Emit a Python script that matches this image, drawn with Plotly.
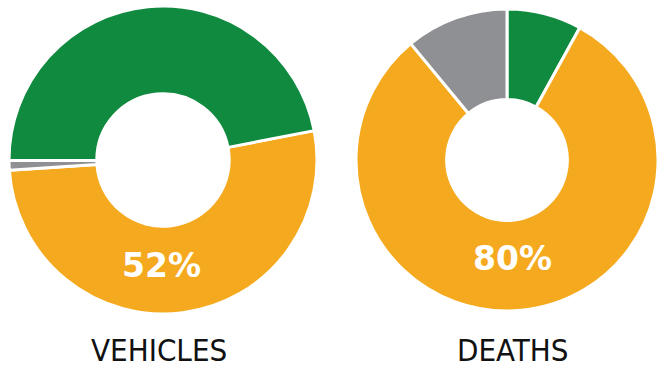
import plotly.graph_objects as go

# Data
categories = ["Green", "Yellow", "Gray"]
vehicles_labels = ["Yellow", "Gray", "Green"]
vehicles_values = [52, 1, 47]
deaths_labels = ["Green", "Yellow", "Gray"]
deaths_values = [8, 81, 11]
center_texts = ["52%", "80%"]
titles = ["VEHICLES", "DEATHS"]

colors = {"Green": "#0f8a3f", "Yellow": "#f5a91e", "Gray": "#8f9094"}

W, H = 662, 368

def dom(cx, cy, r):
    return dict(x=[(cx - r) / W, (cx + r) / W],
                y=[(H - cy - r) / H, (H - cy + r) / H])

fig = go.Figure()
fig.add_trace(go.Pie(
    labels=vehicles_labels, values=vehicles_values, sort=False,
    direction="clockwise", rotation=79, hole=0.43,
    marker=dict(colors=[colors[c] for c in vehicles_labels],
                line=dict(color="white", width=3)),
    textinfo="none", hoverinfo="label+percent", showlegend=False,
    domain=dom(163, 160, 154),
))
fig.add_trace(go.Pie(
    labels=deaths_labels, values=deaths_values, sort=False,
    direction="clockwise", rotation=0, hole=0.40,
    marker=dict(colors=[colors[c] for c in deaths_labels],
                line=dict(color="white", width=3)),
    textinfo="none", hoverinfo="label+percent", showlegend=False,
    domain=dom(507, 160, 151),
))

pct_pos = [(161, 265), (512, 258)]
for txt, (x, y) in zip(center_texts, pct_pos):
    fig.add_annotation(x=x / W, y=1 - y / H, xref="paper", yref="paper",
                       text=txt, showarrow=False, xanchor="center", yanchor="middle",
                       font=dict(family="DejaVu Sans", size=33, color="white", weight="bold"))

title_pos = [(159, 350), (512, 350)]
for txt, (x, y) in zip(titles, title_pos):
    fig.add_annotation(x=x / W, y=1 - y / H, xref="paper", yref="paper",
                       text=txt, showarrow=False, xanchor="center", yanchor="middle",
                       font=dict(family="DejaVu Sans Condensed, Liberation Sans, Arial", size=31, color="#111111"))

fig.update_layout(width=W, height=H, margin=dict(l=0, r=0, t=0, b=0),
                  paper_bgcolor="white", plot_bgcolor="white")
fig.write_html("out.html")
